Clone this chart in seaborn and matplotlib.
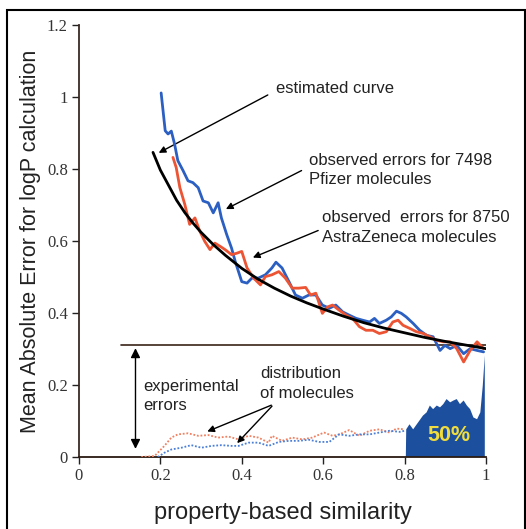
import numpy as np
import pandas as pd
import matplotlib
matplotlib.use("Agg")
import matplotlib.pyplot as plt
from matplotlib.patches import Rectangle
import seaborn as sns

# ---------------- data ----------------
pfizer_x = [0.202, 0.212, 0.219, 0.227, 0.235, 0.243, 0.256, 0.268, 0.280, 0.293, 0.305, 0.318,
            0.330, 0.342, 0.350, 0.363, 0.375, 0.384, 0.392, 0.400, 0.413, 0.425, 0.441, 0.458,
            0.474, 0.484, 0.499, 0.516, 0.532, 0.549, 0.565, 0.582, 0.598, 0.615, 0.631, 0.648,
            0.664, 0.681, 0.697, 0.714, 0.726, 0.738, 0.755, 0.767, 0.780, 0.792, 0.804, 0.821,
            0.837, 0.854, 0.870, 0.887, 0.899, 0.912, 0.928, 0.945, 0.961, 0.978, 0.994]
pfizer_y = [1.011, 0.906, 0.897, 0.905, 0.869, 0.823, 0.795, 0.767, 0.762, 0.748, 0.711, 0.706,
            0.678, 0.706, 0.664, 0.618, 0.580, 0.543, 0.515, 0.487, 0.483, 0.497, 0.497, 0.506,
            0.525, 0.541, 0.525, 0.487, 0.450, 0.441, 0.450, 0.450, 0.422, 0.413, 0.422, 0.403,
            0.394, 0.385, 0.380, 0.375, 0.385, 0.371, 0.380, 0.389, 0.405, 0.399, 0.389, 0.371,
            0.352, 0.338, 0.334, 0.296, 0.310, 0.301, 0.310, 0.287, 0.301, 0.296, 0.292]

az_x = [0.231, 0.239, 0.248, 0.260, 0.272, 0.285, 0.297, 0.309, 0.322, 0.334, 0.347, 0.359,
        0.375, 0.388, 0.400, 0.413, 0.429, 0.446, 0.458, 0.474, 0.491, 0.507, 0.524, 0.540,
        0.557, 0.569, 0.582, 0.598, 0.611, 0.623, 0.639, 0.656, 0.672, 0.689, 0.705, 0.722,
        0.738, 0.755, 0.771, 0.784, 0.796, 0.813, 0.829, 0.846, 0.862, 0.879, 0.895, 0.912,
        0.928, 0.945, 0.961, 0.978, 0.994]
az_y = [0.832, 0.804, 0.748, 0.702, 0.646, 0.664, 0.627, 0.599, 0.576, 0.594, 0.585, 0.576,
        0.562, 0.566, 0.571, 0.525, 0.497, 0.478, 0.501, 0.506, 0.515, 0.497, 0.469, 0.469,
        0.471, 0.450, 0.455, 0.399, 0.417, 0.422, 0.408, 0.394, 0.385, 0.362, 0.352, 0.352,
        0.343, 0.348, 0.375, 0.380, 0.366, 0.357, 0.348, 0.343, 0.334, 0.324, 0.320, 0.320,
        0.301, 0.264, 0.296, 0.320, 0.301]

est_x = [0.182, 0.20, 0.22, 0.24, 0.26, 0.28, 0.30, 0.33, 0.36, 0.40, 0.44, 0.48, 0.52, 0.56,
         0.60, 0.65, 0.70, 0.75, 0.80, 0.85, 0.90, 0.95, 1.00]
est_y = [0.846, 0.797, 0.755, 0.713, 0.679, 0.650, 0.624, 0.590, 0.560, 0.524, 0.494, 0.469,
         0.447, 0.428, 0.411, 0.391, 0.373, 0.358, 0.345, 0.332, 0.321, 0.311, 0.301]

dist_az_x = [0.153, 0.186, 0.210, 0.227, 0.243, 0.268, 0.293, 0.318, 0.342, 0.367, 0.392, 0.417,
             0.441, 0.466, 0.474, 0.499, 0.524, 0.549, 0.573, 0.602, 0.623, 0.640, 0.664, 0.689,
             0.714, 0.738, 0.763, 0.780, 0.800]
dist_az_y = [0.000, 0.003, 0.031, 0.054, 0.063, 0.066, 0.059, 0.061, 0.054, 0.057, 0.049, 0.059,
             0.054, 0.040, 0.059, 0.045, 0.054, 0.049, 0.054, 0.068, 0.059, 0.063, 0.075, 0.059,
             0.073, 0.077, 0.068, 0.079, 0.077]

dist_pf_x = [0.194, 0.210, 0.227, 0.252, 0.276, 0.301, 0.326, 0.350, 0.375, 0.392, 0.417, 0.441,
             0.466, 0.491, 0.516, 0.540, 0.565, 0.590, 0.615, 0.639, 0.664, 0.689, 0.714, 0.738,
             0.763, 0.788, 0.800]
dist_pf_y = [0.000, 0.012, 0.021, 0.026, 0.033, 0.026, 0.031, 0.033, 0.031, 0.031, 0.040, 0.040,
             0.031, 0.042, 0.045, 0.045, 0.048, 0.042, 0.042, 0.063, 0.059, 0.063, 0.063, 0.068,
             0.073, 0.070, 0.073]

top_x = [0.803, 0.804, 0.812, 0.821, 0.833, 0.845, 0.854, 0.862, 0.870, 0.879, 0.887, 0.895,
         0.903, 0.912, 0.920, 0.928, 0.936, 0.945, 0.953, 0.961, 0.969, 0.978, 0.986, 0.992,
         0.997, 0.997]
top_y = [0.000, 0.077, 0.091, 0.077, 0.096, 0.115, 0.124, 0.143, 0.133, 0.143, 0.138, 0.147,
         0.161, 0.152, 0.157, 0.161, 0.147, 0.157, 0.143, 0.133, 0.110, 0.105, 0.124, 0.198,
         0.282, 0.000]

x_ticks = [0, 0.2, 0.4, 0.6, 0.8, 1]
x_tick_labels = ["0", "0.2", "0.4", "0.6", "0.8", "1"]
y_ticks = [0, 0.2, 0.4, 0.6, 0.8, 1, 1.2]
y_tick_labels = ["0", "0.2", "0.4", "0.6", "0.8", "1", "1.2"]

exp_error_level = 0.31

# ---------------- plot ----------------
sns.set_style("white")
plt.rcParams['font.family'] = ['Liberation Sans', 'DejaVu Sans']

fig = plt.figure(figsize=(5.26, 5.29), dpi=100)
ax = fig.add_axes([0.150, 0.136, 0.774, 0.817])

BLUE = "#2b5fc2"
RED = "#ec5434"
FILL = "#1d4f9f"

# filled distribution
ax.fill(top_x, top_y, color=FILL, zorder=2, lw=0)

sns.lineplot(x=dist_az_x, y=dist_az_y, ax=ax, color="#f08060", lw=1.3, ls=(0, (1, 1)), zorder=3)
sns.lineplot(x=dist_pf_x, y=dist_pf_y, ax=ax, color="#4a7fd8", lw=1.3, ls=(0, (1, 1)), zorder=3)

sns.lineplot(x=pfizer_x, y=pfizer_y, ax=ax, color=BLUE, lw=2.0, zorder=4, sort=False)
sns.lineplot(x=az_x, y=az_y, ax=ax, color=RED, lw=2.0, zorder=5, sort=False)
sns.lineplot(x=est_x, y=est_y, ax=ax, color="black", lw=2.0, zorder=6, sort=False)

# experimental errors level
ax.plot([0.103, 1.0], [exp_error_level, exp_error_level], color="#3a2418", lw=1.2, zorder=3)
ax.annotate("", xy=(0.139, 0.015), xytext=(0.139, exp_error_level),
            arrowprops=dict(arrowstyle="<|-|>", color="black", lw=1.0, mutation_scale=14))

ax.set_xlim(0, 1)
ax.set_ylim(0, 1.2)
ax.set_xticks(x_ticks)
ax.set_xticklabels(x_tick_labels)
ax.set_yticks(y_ticks)
ax.set_yticklabels(y_tick_labels)
for lab in ax.get_xticklabels() + ax.get_yticklabels():
    lab.set_family("Liberation Serif")
    lab.set_fontsize(12)
    lab.set_color("#333333")
ax.tick_params(axis="both", direction="out", length=5, width=1.0, color="#222222", pad=3,
               left=True, bottom=True)

for s in ["top", "right"]:
    ax.spines[s].set_visible(False)
ax.spines["left"].set_color("#3a2a22")
ax.spines["bottom"].set_color("#2a1a12")
ax.spines["left"].set_linewidth(1.3)
ax.spines["bottom"].set_linewidth(1.3)

ax.set_xlabel("property-based similarity", fontsize=17, color="#222222", labelpad=13)
ax.set_ylabel("Mean Absolute Error for logP calculation", fontsize=15.5, color="#222222", labelpad=4)

# annotations
txt_kw = dict(fontsize=12, color="#222222", va="center", ha="left")
arr = dict(arrowstyle="-|>", color="black", lw=1.0, mutation_scale=10)

ax.text(0.484, 1.022, "estimated curve", **txt_kw)
ax.annotate("", xy=(0.19, 0.841), xytext=(0.47, 1.009), arrowprops=arr)

ax.text(0.565, 0.823, "observed errors for 7498", **txt_kw)
ax.text(0.565, 0.770, "Pfizer molecules", **txt_kw)
ax.annotate("", xy=(0.355, 0.685), xytext=(0.553, 0.799), arrowprops=arr)

ax.text(0.598, 0.664, "observed  errors for 8750", **txt_kw)
ax.text(0.598, 0.610, "AstraZeneca molecules", **txt_kw)
ax.annotate("", xy=(0.421, 0.551), xytext=(0.594, 0.632), arrowprops=arr)

ax.text(0.159, 0.197, "experimental", **txt_kw)
ax.text(0.159, 0.143, "errors", **txt_kw)

ax.text(0.446, 0.231, "distribution", **txt_kw)
ax.text(0.446, 0.177, "of molecules", **txt_kw)
ax.annotate("", xy=(0.309, 0.068), xytext=(0.479, 0.147), arrowprops=arr)
ax.annotate("", xy=(0.384, 0.033), xytext=(0.479, 0.147), arrowprops=arr)

ax.text(0.908, 0.059, "50%", fontsize=15.5, fontweight="bold", color="#f0dc3c",
        ha="center", va="center", zorder=7)

# outer frame
fig.patches.append(Rectangle((7 / 526, -0.02), (525 - 7) / 526, 1 - 10 / 529 + 0.02,
                             transform=fig.transFigure, fill=False, edgecolor="black",
                             lw=1.5, zorder=10))

fig.savefig("out.png", dpi=100)
